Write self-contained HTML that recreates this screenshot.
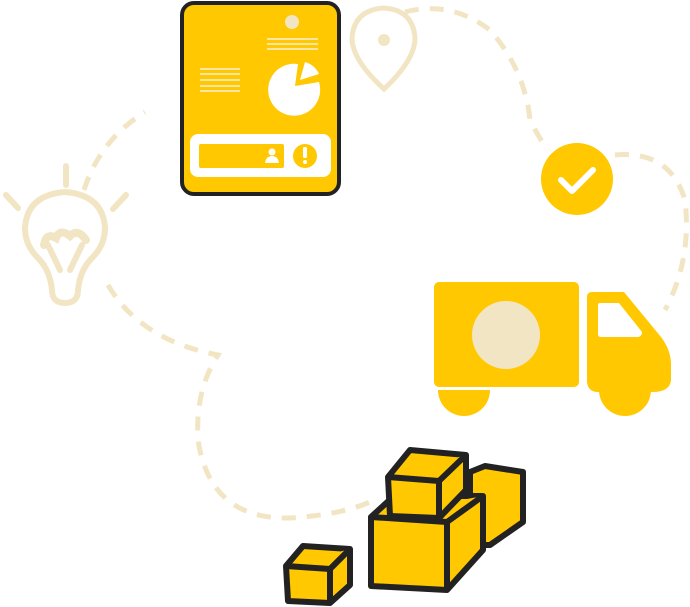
<!DOCTYPE html>
<html><head><style>html,body{margin:0;padding:0;background:#fff}svg{display:block}</style></head><body>
<svg width="690" height="607" viewBox="0 0 690 607" xmlns="http://www.w3.org/2000/svg">
<g fill="none" stroke="#f2e5c4" stroke-width="5" stroke-dasharray="14 11">
<path d="M84 190 Q100 140 145 112"/>
<path d="M405 12 Q450 0 490 30 Q525 70 530 120 Q540 140 548 150"/>
<path d="M615 155 Q670 150 685 200 Q692 260 665 310"/>
<path d="M108 285 Q140 340 218 355 Q195 390 198 440 Q210 520 290 518 Q340 515 370 502"/>
</g>
<!-- bulb -->
<g fill="none" stroke="#f2e5c4" stroke-width="6" stroke-linecap="round">
<path d="M52 290 Q50 270 38 258 Q25 245 25 228 Q27 195 65 192 Q103 195 105 228 Q105 245 92 258 Q80 270 78 290 Q78 303 65 303 Q52 303 52 290Z"/>
<line x1="66" y1="166" x2="66" y2="185"/><line x1="6" y1="195" x2="18" y2="208"/><line x1="126" y1="195" x2="113" y2="209"/>
<path d="M60 270 L48 245 M70 270 L82 245"/>
<path d="M44 245 Q46 232 56 238 Q60 228 70 236 Q78 228 86 240" stroke-width="8"/>
</g>
<!-- pin -->
<g fill="none" stroke="#f2e5c4" stroke-width="5">
<path d="M384 89 Q352 60 352 38 Q354 10 384 8 Q413 10 415 38 Q415 60 384 89Z"/>
</g>
<circle cx="384" cy="40" r="6" fill="#f2e5c4"/>
<!-- tablet -->
<rect x="182" y="3" width="157" height="191" rx="12" fill="#ffc800" stroke="#222" stroke-width="4"/>
<circle cx="292" cy="22" r="7" fill="#f2e5c4"/>
<g stroke="#f7f0dc" stroke-width="1.5"><line x1="267" y1="39" x2="318" y2="39"/><line x1="267" y1="44" x2="318" y2="44"/><line x1="267" y1="49" x2="318" y2="49"/>
<line x1="200" y1="69" x2="240" y2="69"/><line x1="200" y1="74" x2="240" y2="74"/><line x1="200" y1="80" x2="240" y2="80"/><line x1="200" y1="86" x2="240" y2="86"/><line x1="200" y1="91" x2="240" y2="91"/></g>
<path d="M295 86 L298 64 A26 26 0 1 0 319 82 Z" fill="#fff"/>
<path d="M300 80 L305 62 Q315 65 319 74 Z" fill="#fff"/>
<rect x="190" y="134" width="141" height="43" rx="8" fill="#fff"/>
<rect x="199" y="144" width="85" height="24" rx="2" fill="#ffc800"/>
<circle cx="272" cy="152" r="3.5" fill="#fff"/><path d="M265 163 Q266 156 272 156 Q278 156 279 163Z" fill="#fff"/>
<circle cx="305" cy="156" r="12" fill="#ffc800"/>
<rect x="303" y="147" width="4" height="11" rx="1.5" fill="#fff"/><circle cx="305" cy="162" r="2" fill="#fff"/>
<!-- check -->
<circle cx="577" cy="179" r="36" fill="#ffc800"/>
<path d="M561 180 L572 191 L593 170" fill="none" stroke="#fff" stroke-width="6" stroke-linecap="round" stroke-linejoin="round"/>
<!-- truck -->
<rect x="434" y="282" width="145" height="105" rx="5" fill="#ffc800"/>
<circle cx="506" cy="335" r="34" fill="#f2e5c4"/>
<path d="M438 390 L490 390 A26 26 0 0 1 438 390Z" fill="#ffc800"/>
<path d="M592 292 L624 292 L661 337 Q671 350 671 365 L671 380 Q670 392 652 392 L598 392 Q588 392 587 382 L587 297 Q587 292 592 292Z" fill="#ffc800"/>
<circle cx="625" cy="390" r="26" fill="#ffc800"/>
<path d="M600 303 L619 303 L642 332 Q642 337 637 337 L601 337 Q598 337 598 334 L598 305 Q598 303 600 303Z" fill="#fff"/>
<!-- boxes -->
<g fill="#ffc800" stroke="#222" stroke-width="6" stroke-linejoin="round">
<path d="M470 472 L485 466 L523 472 L523 522 L490 545 L470 545 Z"/>
<path d="M371 517 L394 496 L483 496 L483 550 L447 590 L371 586 Z"/>
<path d="M371 517 L447 522 L483 496 M447 522 L447 590"/>
<path d="M388 477 L410 450 L466 455 L466 490 L439 518 L390 516 Z"/>
<path d="M388 477 L439 481 L466 455 M439 481 L439 518"/>
<path d="M286 566 L303 546 L350 549 L350 585 L330 603 L288 601 Z"/>
<path d="M286 566 L330 569 L350 549 M330 569 L330 603"/>
</g>
</svg>
</body></html>
